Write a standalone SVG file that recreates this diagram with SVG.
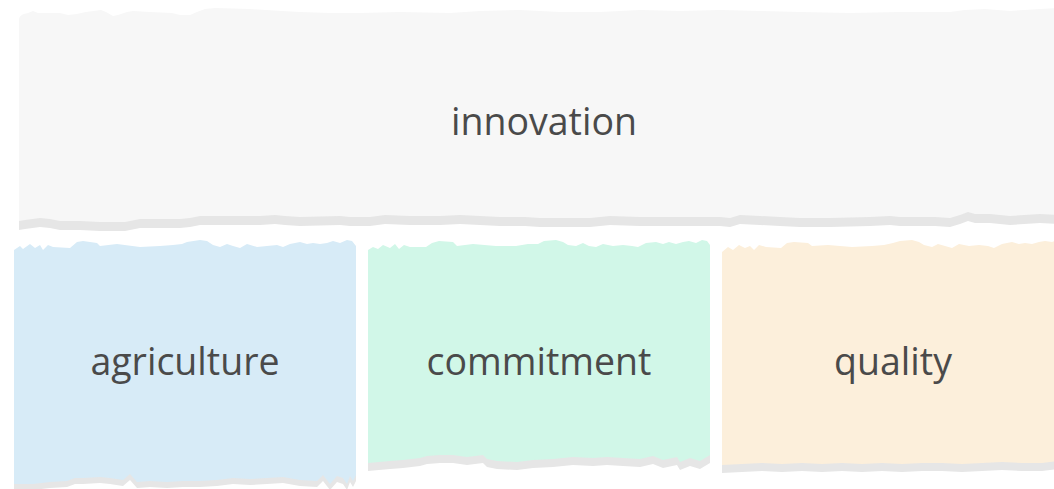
<svg xmlns="http://www.w3.org/2000/svg" width="1054" height="489" viewBox="0 0 1054 489">
<defs>
<style>
.shadow{fill:#e6e6e6}
.lbl{font-family:"Open Sans","Noto Sans","Liberation Sans",sans-serif;font-size:37.5px;fill:#4a4a4a;text-anchor:middle}
</style>
<path id="topShape" d="M19,20 C19,16 22,14 28,13 L33,11 L38,13 L45,13 L60,13 L68,15 L77,14 L86,12 L101,10 L106,12 L113,16 L118,15 L127,12 L133,11 L150,12 L172,13 L180,15 L190,15 L197,12 L205,9 L215,8 L250,9 L282,11 L300,12 L330,13 L360,13 L400,12 L450,13 L480,11 L520,10 L560,12 L600,12 L640,10 L680,11 L720,10 L760,11 L800,12 L850,13 L900,12 L950,12 L965,10 L985,9 L1010,11 L1040,9 L1060,8 L1060,215 L1040,214 L1010,216 L990,214 L975,214 L968,212 L960,215 L950,218 L935,217 L900,217 L890,216 L870,217 L830,218 L800,218 L780,217 L760,216 L740,215 L730,218 L720,217 L700,217 L640,217 L610,216 L590,218 L575,218 L560,218 L540,218 L525,217 L500,217 L480,216 L460,215 L440,216 L410,216 L385,215 L370,217 L350,217 L340,216 L300,217 L285,216 L275,215 L260,216 L230,216 L200,216 L190,218 L180,219 L140,219 L130,221 L125,222 L100,222 L80,221 L60,221 L50,219 L40,218 L25,220 L19,221 Z"/>
<path id="blueShape" d="M0,250 L6,246 L9,249 L16,244 L21,248 L26,245 L29,250 L34,245 L39,247 L56,248 L63,242 L69,241 L83,243 L86,246 L103,244 L126,247 L146,246 L159,245 L168,244 L173,242 L186,240 L193,241 L199,245 L206,247 L213,244 L219,246 L226,248 L233,244 L243,247 L253,246 L263,245 L269,247 L276,244 L286,242 L293,244 L299,243 L306,244 L313,243 L319,241 L326,243 L333,240 L338,241 L342,246 L342,475 L339,481 L336,476 L333,484 L329,478 L323,476 L316,484 L309,475 L303,481 L286,480 L269,477 L253,478 L236,479 L219,478 L203,480 L186,481 L169,481 L153,482 L136,481 L123,482 L116,474 L109,480 L96,478 L86,477 L69,478 L61,478 L53,481 L36,482 L19,484 L0,484 Z"/>
<path id="greenShape" d="M0,250 L5,247 L10,249 L15,245 L22,248 L27,244 L31,249 L36,245 L42,247 L58,247 L64,243 L71,241 L85,242 L89,246 L105,244 L128,246 L148,246 L160,244 L170,244 L176,241 L188,240 L195,242 L200,245 L208,246 L215,243 L221,246 L228,247 L235,244 L245,246 L255,245 L264,246 L270,247 L278,243 L288,242 L295,244 L301,242 L308,244 L315,242 L321,241 L328,243 L334,240 L339,241 L342,245 L342,455 L332,461 L322,458 L312,462 L309,457 L295,460 L285,456 L272,459 L255,458 L239,457 L225,458 L205,457 L185,459 L165,460 L149,462 L129,461 L119,459 L115,455 L99,457 L85,455 L72,455 L59,456 L52,458 L35,460 L22,461 L0,463 Z"/>
<path id="orangeShape" d="M0,252 L6,247 L11,250 L17,245 L23,248 L28,246 L32,250 L37,245 L44,247 L59,248 L65,243 L72,242 L86,243 L90,246 L106,245 L130,247 L150,246 L162,245 L171,243 L178,241 L190,240 L197,242 L202,245 L210,247 L216,244 L223,246 L230,248 L237,244 L247,246 L257,245 L266,246 L272,248 L280,244 L290,242 L297,244 L303,243 L310,244 L317,242 L323,241 L330,242 L336,240 L345,241 L345,458 L335,461 L320,463 L300,463 L280,462 L260,463 L240,464 L220,463 L200,463 L180,464 L160,463 L140,464 L120,463 L100,464 L80,463 L60,464 L40,463 L20,464 L0,465 Z"/>
</defs>
<g id="innovation">
<use href="#topShape" class="shadow" transform="translate(0,9)"/>
<use href="#topShape" fill="#f7f7f7"/>
<text class="lbl" x="544" y="135">innovation</text>
</g>
<g id="agriculture">
<use href="#blueShape" class="shadow" transform="translate(14,6)"/>
<use href="#blueShape" fill="#d7ebf7" transform="translate(14,0)"/>
<text class="lbl" x="185" y="375">agriculture</text>
</g>
<g id="commitment">
<use href="#greenShape" class="shadow" transform="translate(368,8)"/>
<use href="#greenShape" fill="#d1f7e8" transform="translate(368,0)"/>
<text class="lbl" x="539" y="375">commitment</text>
</g>
<g id="quality">
<use href="#orangeShape" class="shadow" transform="translate(722,8)"/>
<use href="#orangeShape" fill="#fcefdb" transform="translate(722,0)"/>
<text class="lbl" x="893" y="375">quality</text>
</g>
<g id="connectors"></g>
</svg>
